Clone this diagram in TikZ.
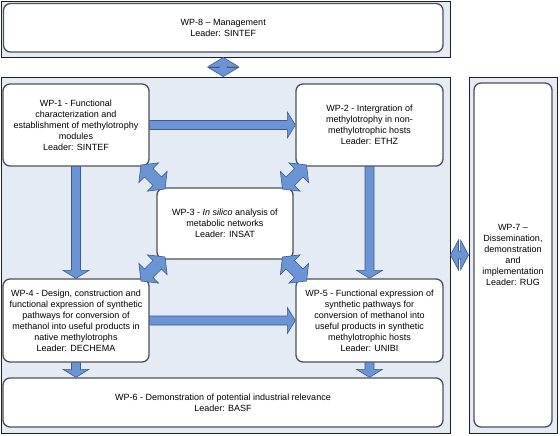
\documentclass[tikz,border=0pt]{standalone}
\usepackage{fontspec}
\setmainfont{Liberation Sans}
\usetikzlibrary{calc}
\definecolor{framebg}{HTML}{E5EBF5}
\definecolor{arrowfill}{HTML}{6A94D4}
\definecolor{arrowline}{HTML}{3B5B8E}
\definecolor{boxline}{HTML}{505050}
\definecolor{frameline}{HTML}{202020}
\newcommand{\singleblockarrow}[2]{%
  \coordinate (sa) at (#1); \coordinate (sb) at (#2);
  \coordinate (sh) at ($(sb)!8pt!(sa)$);
  \draw[blockarrow] ($(sa)!4.5pt!90:(sb)$) -- ($(sh)!4.5pt!90:(sb)$) -- ($(sh)!13pt!90:(sb)$) -- (sb)
    -- ($(sh)!13pt!-90:(sb)$) -- ($(sh)!4.5pt!-90:(sb)$) -- ($(sa)!4.5pt!-90:(sb)$) -- cycle;}
\newcommand{\doubleblockarrow}[5]{%
  \coordinate (da) at (#1); \coordinate (db) at (#2);
  \coordinate (ha) at ($(da)!#3!(db)$); \coordinate (hb) at ($(db)!#3!(da)$);
  \draw[blockarrow] (da) -- ($(ha)!#4!90:(db)$) -- ($(ha)!#5!90:(db)$) -- ($(hb)!#5!-90:(da)$)
    -- ($(hb)!#4!-90:(da)$) -- (db) -- ($(hb)!#4!90:(da)$) -- ($(hb)!#5!90:(da)$)
    -- ($(ha)!#5!-90:(db)$) -- ($(ha)!#4!-90:(db)$) -- cycle;}
\begin{document}
\begin{tikzpicture}[x=1pt,y=1pt, font=\fontsize{9}{11}\selectfont,
  frame/.style={draw=frameline, line width=0.9pt, fill=framebg, inner sep=0pt},
  wpbox/.style={draw=boxline, line width=1.3pt, rounded corners=7pt, fill=white, align=center, inner sep=0pt},
  blockarrow/.style={draw=arrowline, line width=0.6pt, fill=arrowfill, line join=miter}]
\useasboundingbox (0,0) rectangle (560,-436);
% frames
\node[frame, minimum width=449pt, minimum height=56pt] (topframe) at (225.5,-29) {};
\node[frame, minimum width=449pt, minimum height=356pt] (mainframe) at (225.5,-255) {};
\node[frame, minimum width=88pt, minimum height=356pt] (wp7frame) at (513,-255) {};
% boxes
\node[wpbox, minimum width=439.5pt, minimum height=48.5pt] (wp8) at (223.25,-27.75) {WP-8 -- Management\\Leader: SINTEF};
\node[wpbox, minimum width=146pt, minimum height=82pt] (wp1) at (76,-125) {WP-1 - Functional\\characterization and\\establishment of methylotrophy\\modules\\Leader: SINTEF};
\node[wpbox, minimum width=147pt, minimum height=82pt] (wp2) at (369.5,-125) {WP-2 - Intergration of\\methylotrophy in non-\\methylotrophic hosts\\Leader: ETHZ};
\node[wpbox, minimum width=136pt, minimum height=71pt] (wp3) at (225,-223.5) {WP-3 - \textit{In silico} analysis of\\metabolic networks\\Leader: INSAT};
\node[wpbox, minimum width=146pt, minimum height=83pt] (wp4) at (76,-320.5) {WP-4 - Design, construction and\\functional expression of synthetic\\pathways for conversion of\\methanol into useful products in\\native methylotrophs\\Leader: DECHEMA};
\node[wpbox, minimum width=147pt, minimum height=83pt] (wp5) at (369.5,-320.5) {WP-5 - Functional expression of\\synthetic pathways for\\conversion of methanol into\\useful products in synthetic\\methylotrophic hosts\\Leader: UNIBI};
\node[wpbox, minimum width=440pt, minimum height=49pt] (wp6) at (223,-402.5) {WP-6 - Demonstration of potential industrial relevance\\Leader: BASF};
\node[wpbox, minimum width=78pt, minimum height=344pt] (wp7) at (513,-255) {WP-7 --\\Dissemination,\\demonstration\\and\\implementation\\Leader: RUG};
% single block arrows
\singleblockarrow{wp1.east}{wp2.west}
\singleblockarrow{wp4.east}{wp5.west}
\singleblockarrow{wp1.south}{wp4.north}
\singleblockarrow{wp2.south}{wp5.north}
\singleblockarrow{wp4.south}{wp4.south |- wp6.north}
\singleblockarrow{wp5.south}{wp5.south |- wp6.north}
% double block arrows
\doubleblockarrow{wp8.south |- topframe.south}{wp8.south |- mainframe.north}{9pt}{15pt}{4pt}
\doubleblockarrow{mainframe.east}{wp7frame.west}{8pt}{15pt}{4pt}
\coordinate (c1) at ($(wp1.south east)!0.5!(wp3.north west)$);
\coordinate (c2) at ($(wp2.south west)!0.5!(wp3.north east)$);
\coordinate (c3) at ($(wp4.north east)!0.5!(wp3.south west)$);
\coordinate (c4) at ($(wp5.north west)!0.5!(wp3.south east)$);
\doubleblockarrow{$(c1)+(135:17)$}{$(c1)+(-45:17)$}{11pt}{14pt}{6pt}
\doubleblockarrow{$(c2)+(45:17)$}{$(c2)+(225:17)$}{11pt}{14pt}{6pt}
\doubleblockarrow{$(c3)+(45:17)$}{$(c3)+(225:17)$}{11pt}{14pt}{6pt}
\doubleblockarrow{$(c4)+(135:17)$}{$(c4)+(-45:17)$}{11pt}{14pt}{6pt}
\end{tikzpicture}
\end{document}
